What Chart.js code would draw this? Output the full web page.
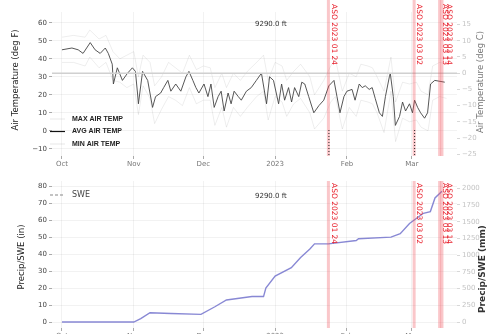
<!DOCTYPE html>
<html>
<head>
<meta charset="utf-8">
<script src="https://cdn.jsdelivr.net/npm/chart.js@4.4.0/dist/chart.umd.min.js"></script>
<style>
  html, body { margin: 0; padding: 0; background: #fff; overflow: hidden; width: 487px; height: 334px; }
  #top-wrap { position: absolute; left: 0; top: 0; width: 487px; height: 167px; }
  #bot-wrap { position: absolute; left: 0; top: 167px; width: 487px; height: 180px; }
</style>
</head>
<body>
<div id="top-wrap"><canvas id="temp-chart" width="487" height="167"></canvas></div>
<div id="bot-wrap"><canvas id="swe-chart" width="487" height="180"></canvas></div>
<script>
// x values are days since 2022-10-01
const monthDays = [0, 31, 61, 92, 123, 151];
const monthLabels = ['Oct', 'Nov', 'Dec', '2023', 'Feb', 'Mar'];

const asoDays = [115, 152, 163, 164];
const asoLabels = ['ASO 2023 01 24', 'ASO 2023 03 02', 'ASO 2023 03 13', 'ASO 2023 03 14'];

const stationLabel = '9290.0 ft';

// Average air temperature (deg F)
const avgDays = [0, 4.3, 7, 9.1, 12.2, 14.3, 16.5, 18.7, 20, 21.7, 22.2, 23.9, 26.1, 28.3, 30.4, 31.7, 32.6, 33,
  34.8, 35.2, 37, 39.1, 40.4, 42.6, 43.9, 45.7, 47, 49.1, 51.3, 53.5, 54.8, 56.5, 57.8, 59.1, 61.3, 63, 64.3,
  65.7, 67.4, 68.7, 70, 71.7, 73, 74.3, 76.1, 77.4, 79.6, 81.7, 83.9, 86.1, 88.3, 89.6, 91.3, 93.5, 94.8, 96.1,
  97.8, 99.1, 100.4, 102.2, 103.5, 104.8, 106.5, 108.7, 110.9, 113, 115.2, 117.4, 118.7, 120, 121.7, 123, 125.2,
  126.5, 128.3, 129.6, 130.9, 132.6, 133.9, 135.2, 137, 138.3, 139.6, 141.3, 141.7, 143, 143.9, 145.7, 147, 148.3,
  150, 151.3, 152.2, 153.5, 154.8, 156.5, 157.8, 159.1, 160.9, 165.2];
const avgTemp = [45, 46, 45, 43, 49, 45, 43, 46, 43, 37, 26, 35, 28, 32, 35, 33, 21, 15,
  33, 32, 28, 13, 19, 21, 24, 28, 22, 26, 22, 30, 33, 28, 24, 21, 26, 19, 26,
  13, 19, 22, 11, 21, 15, 22, 19, 17, 22, 24, 28, 32, 15, 30, 28, 15, 26, 17,
  24, 16, 24, 19, 27, 26, 19, 10, 14, 17, 25, 28, 19, 10, 19, 22, 23,
  17, 26, 24, 25, 23, 24, 18, 10, 8, 19, 30, 32, 19, 3, 8, 16, 11,
  15, 10, 17, 13, 10, 7, 10, 26, 28, 27];

// Max / min air temperature (deg F), faint in the original
const extDays = [0, 5, 10, 12, 16, 19, 22, 25, 28, 31, 33, 35, 38, 40, 43, 46, 49, 52, 55, 58, 61, 64, 66, 69,
  71, 74, 77, 80, 84, 87, 89, 92, 95, 97, 100, 103, 107, 109, 113, 116, 118, 121, 124, 127, 129, 132, 134,
  136, 139, 142, 144, 147, 150, 153, 155, 158, 160, 163, 166];
const maxTemp = [52, 53, 52, 56, 51, 53, 44, 40, 42, 44, 30, 42, 38, 25, 30, 38, 35, 32, 42, 34, 36, 35, 24, 32,
  24, 32, 28, 33, 38, 42, 28, 38, 36, 28, 33, 37, 30, 20, 28, 36, 40, 22, 32, 30, 37, 36, 35,
  30, 22, 41, 16, 27, 26, 27, 22, 20, 36, 38, 37];
const minTemp = [38, 38, 36, 41, 35, 38, 28, 27, 24, 26, 9, 25, 18, 4, 12, 19, 17, 14, 24, 15, 17, 17, 3, 13,
  2, 13, 8, 13, 19, 22, 6, 19, 16, 8, 15, 18, 10, 1, 7, 16, 19, 1, 13, 8, 17, 16, 15,
  10, -1, 22, -6, 7, 5, 6, 2, 0, 17, 19, 18];

const freezeTemp = 32;

// Snow water equivalent (in)
const sweDays = [0, 31, 34, 38, 47, 60, 66, 71, 82, 87, 88, 92, 99, 103, 107, 109, 115, 127, 128, 142, 146, 150,
  156, 159, 161, 164];
const sweIn = [0, 0, 2, 5.5, 5, 4.5, 9, 13, 15, 15, 20, 27, 32, 38, 43, 46, 46, 48, 49, 50, 52, 58,
  64, 65, 73, 77];

const tempTicksF = [-10, 0, 10, 20, 30, 40, 50, 60];
const tempTicksC = [-25, -20, -15, -10, -5, 0, 5, 10, 15];
const sweTicksIn = [0, 10, 20, 30, 40, 50, 60, 70, 80];
const sweTicksMm = [0, 250, 500, 750, 1000, 1250, 1500, 1750, 2000];

const X_MIN = -4.3, X_MAX = 170.5;
const F_MIN = -14, F_MAX = 66;
const IN_MIN = -3.5, IN_MAX = 83;

const FONT = "'DejaVu Sans', sans-serif";
const fToC = f => (f - 32) * 5 / 9;

function pts(xs, ys) {
    return xs.map((x, i) => ({ x: x, y: ys[i] }));
}

function xAxis(height) {
    return {
        type: 'linear',
        min: X_MIN,
        max: X_MAX,
        afterBuildTicks: s => { s.ticks = monthDays.map(v => ({ value: v })); },
        afterFit: s => { s.height = height; },
        ticks: {
            autoSkip: false, maxRotation: 0, padding: 1,
            color: '#777', font: { family: FONT, size: 7 },
            callback: v => monthLabels[monthDays.indexOf(v)]
        },
        grid: { color: 'rgba(0,0,0,0.05)', tickColor: '#aaa', tickLength: 3 },
        border: { display: false }
    };
}

function yAxis(min, max, ticks, width, pos, color) {
    return {
        type: 'linear',
        position: pos,
        min: min,
        max: max,
        afterBuildTicks: s => { s.ticks = ticks.map(v => ({ value: v })); },
        afterFit: s => { s.width = width; },
        ticks: {
            padding: 2, color: color, font: { family: FONT, size: 7 },
            callback: v => (v < 0 ? '\u2212' + Math.abs(v) : String(v))
        },
        grid: pos === 'left'
            ? { color: 'rgba(0,0,0,0.05)', tickColor: '#aaa', tickLength: 3 }
            : { drawOnChartArea: false, tickColor: '#d8d8d8', tickLength: 3 },
        border: { display: false }
    };
}

// Vertical ASO flight markers with rotated red labels
function asoPlugin(bandTop, textTop, dotted) {
    return {
        id: 'aso',
        afterDatasetsDraw(chart) {
            const { ctx, chartArea, scales } = chart;
            ctx.save();
            asoDays.forEach((d, i) => {
                const x = scales.x.getPixelForValue(d);
                ctx.fillStyle = 'rgba(240, 70, 80, 0.3)';
                ctx.fillRect(x - 1.5, bandTop, 3, chartArea.bottom - bandTop);
                if (dotted && i < 2) {
                    ctx.strokeStyle = '#222';
                    ctx.lineWidth = 1;
                    ctx.setLineDash([1, 2]);
                    ctx.beginPath();
                    ctx.moveTo(x + 0.5, chartArea.bottom - 26);
                    ctx.lineTo(x + 0.5, chartArea.bottom);
                    ctx.stroke();
                    ctx.setLineDash([]);
                }
                ctx.save();
                ctx.translate(x + 1.5 + (i === 3 ? 1.5 : 0), textTop);
                ctx.rotate(Math.PI / 2);
                ctx.fillStyle = '#e8202c';
                ctx.font = '7.5px ' + FONT;
                ctx.textBaseline = 'bottom';
                ctx.textAlign = 'left';
                ctx.fillText(asoLabels[i], 0, 0);
                ctx.restore();
            });
            ctx.restore();
        }
    };
}

function drawVText(ctx, text, x, y, font, color) {
    ctx.save();
    ctx.translate(x, y);
    ctx.rotate(-Math.PI / 2);
    ctx.font = font;
    ctx.fillStyle = color;
    ctx.textAlign = 'center';
    ctx.textBaseline = 'middle';
    ctx.fillText(text, 0, 0);
    ctx.restore();
}

// Titles, station label and legend for the temperature panel
const tempDecor = {
    id: 'tempDecor',
    afterDraw(chart) {
        const ctx = chart.ctx;
        drawVText(ctx, 'Air Temperature (deg F)', 16, 80, '8.5px ' + FONT, '#222');
        drawVText(ctx, 'Air Temperature (deg C)', 481, 82, '8.5px ' + FONT, '#777');
        ctx.save();
        ctx.font = '7px ' + FONT;
        ctx.fillStyle = '#333';
        ctx.textBaseline = 'middle';
        ctx.fillText(stationLabel, 255, 24);

        const entries = [
            ['MAX AIR TEMP', 'rgba(0,0,0,0.08)'],
            ['AVG AIR TEMP', '#111'],
            ['MIN AIR TEMP', 'rgba(0,0,0,0.08)']
        ];
        entries.forEach((e, i) => {
            const y = 119 + i * 12.5;
            ctx.strokeStyle = e[1];
            ctx.lineWidth = 1.2;
            ctx.beginPath();
            ctx.moveTo(50, y);
            ctx.lineTo(65, y);
            ctx.stroke();
            ctx.fillStyle = '#222';
            ctx.font = 'bold 7px Liberation Sans, sans-serif';
            ctx.fillText(e[0], 72, y);
        });
        ctx.restore();
    }
};

const sweDecor = {
    id: 'sweDecor',
    afterDraw(chart) {
        const ctx = chart.ctx;
        drawVText(ctx, 'Precip/SWE (in)', 22, 90, '8.5px ' + FONT, '#222');
        drawVText(ctx, 'Precip/SWE (mm)', 483, 102, 'bold 9px ' + FONT, '#333');
        ctx.save();
        ctx.font = '7px ' + FONT;
        ctx.fillStyle = '#333';
        ctx.textBaseline = 'middle';
        ctx.fillText(stationLabel, 255, 29);

        ctx.strokeStyle = '#888';
        ctx.lineWidth = 1.2;
        ctx.setLineDash([3, 2]);
        ctx.beginPath();
        ctx.moveTo(50, 28);
        ctx.lineTo(63, 28);
        ctx.stroke();
        ctx.setLineDash([]);
        ctx.font = '8px ' + FONT;
        ctx.fillStyle = '#444';
        ctx.fillText('SWE', 72, 28);
        ctx.restore();
    }
};

function createTempChart() {
    const ctx = document.getElementById('temp-chart').getContext('2d');
    new Chart(ctx, {
        type: 'line',
        data: {
            datasets: [
                {
                    label: 'freeze',
                    data: [{ x: X_MIN, y: freezeTemp }, { x: X_MAX, y: freezeTemp }],
                    borderColor: '#d0d0d0',
                    borderWidth: 1.5,
                    pointRadius: 0
                },
                {
                    label: 'MAX AIR TEMP',
                    data: pts(extDays, maxTemp),
                    borderColor: 'rgba(0,0,0,0.07)',
                    borderWidth: 1,
                    pointRadius: 0
                },
                {
                    label: 'MIN AIR TEMP',
                    data: pts(extDays, minTemp),
                    borderColor: 'rgba(0,0,0,0.07)',
                    borderWidth: 1,
                    pointRadius: 0
                },
                {
                    label: 'AVG AIR TEMP',
                    data: pts(avgDays, avgTemp),
                    borderColor: '#444',
                    borderWidth: 0.9,
                    pointRadius: 0
                }
            ]
        },
        options: {
            responsive: false,
            animation: false,
            layout: { padding: { top: 12, left: 0, right: 0, bottom: 0 } },
            plugins: { legend: { display: false }, tooltip: { enabled: false } },
            scales: {
                x: xAxis(11),
                y: yAxis(F_MIN, F_MAX, tempTicksF, 52, 'left', '#444'),
                y2: yAxis(fToC(F_MIN), fToC(F_MAX), tempTicksC, 30, 'right', '#c4c4c4')
            }
        },
        plugins: [asoPlugin(0, 4, true), tempDecor]
    });
}

function createSweChart() {
    const ctx = document.getElementById('swe-chart').getContext('2d');
    new Chart(ctx, {
        type: 'line',
        data: {
            datasets: [
                {
                    label: 'SWE',
                    data: pts(sweDays, sweIn),
                    borderColor: 'rgba(115,115,205,0.85)',
                    borderWidth: 1.4,
                    pointRadius: 0
                }
            ]
        },
        options: {
            responsive: false,
            animation: false,
            layout: { padding: { top: 14, left: 0, right: 0, bottom: 0 } },
            plugins: { legend: { display: false }, tooltip: { enabled: false } },
            scales: {
                x: xAxis(19),
                y: yAxis(IN_MIN, IN_MAX, sweTicksIn, 52, 'left', '#444'),
                y2: yAxis(IN_MIN * 25.4, IN_MAX * 25.4, sweTicksMm, 30, 'right', '#c4c4c4')
            }
        },
        plugins: [asoPlugin(14, 16, false), sweDecor]
    });
}

createTempChart();
createSweChart();
</script>
</body>
</html>
